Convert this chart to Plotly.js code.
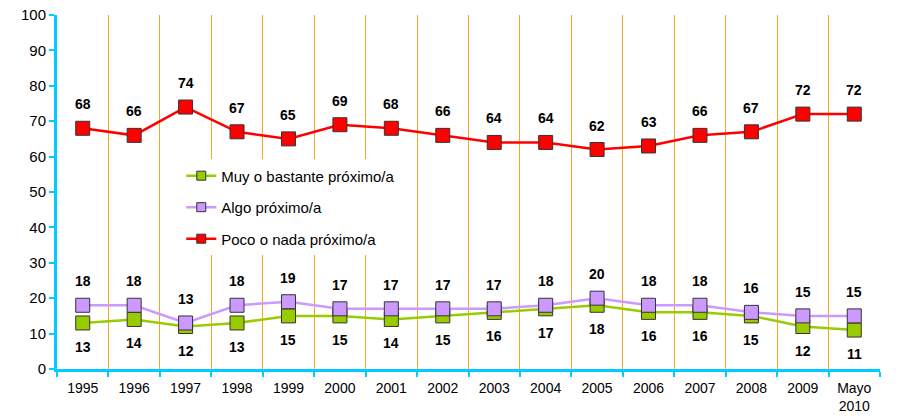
<!DOCTYPE html>
<html><head><meta charset="utf-8">
<script src="https://cdn.plot.ly/plotly-3.0.1.min.js"></script>
<style>html,body{margin:0;padding:0;background:#fff}#c{width:899px;height:418px}</style>
</head><body><div id="c"></div>
<script>
const categories = ["1995","1996","1997","1998","1999","2000","2001","2002","2003","2004","2005","2006","2007","2008","2009","Mayo<br>2010"];
const seriesNames = ["Muy o bastante próximo/a","Algo próximo/a","Poco o nada próximo/a"];
const muyBastante = [13,14,12,13,15,15,14,15,16,17,18,16,16,15,12,11];
const algo = [18,18,13,18,19,17,17,17,17,18,20,18,18,16,15,15];
const pocoNada = [68,66,74,67,65,69,68,66,64,64,62,63,66,67,72,72];
const yTicks = [0,10,20,30,40,50,60,70,80,90,100];

const FONT = "'Liberation Sans', Arial, sans-serif";
const colors = ["#99CC00","#CC99FF","#FF0000"];
const series = [muyBastante, algo, pocoNada];
const labelShift = [-24, 24, 24];

const traces = [];
series.forEach((vals, i) => {
  traces.push({
    type: "scatter", mode: "lines+markers", x: categories, y: vals,
    line: {color: colors[i], width: 2.5},
    marker: {symbol: "square", size: 14, color: colors[i], line: {color: "#333", width: 1}},
    showlegend: false, hoverinfo: "skip"
  });
});
series.forEach((vals, i) => {
  traces.push({
    type: "scatter", mode: "lines+markers", x: categories, y: categories.map(() => null), name: seriesNames[i],
    legendgroup: "g" + i,
    line: {color: colors[i], width: 2.5},
    marker: {symbol: "square", size: 9, color: colors[i], line: {color: "#333", width: 1}}
  });
});

const annotations = [];
series.forEach((vals, i) => {
  vals.forEach((v, j) => {
    annotations.push({
      x: j, y: v, xref: "x", yref: "y", text: "<b>" + v + "</b>",
      showarrow: false, yshift: labelShift[i],
      font: {family: FONT, size: 14, color: "#000"}
    });
  });
});

const layout = {
  width: 899, height: 418,
  margin: {l: 57, r: 19, t: 15, b: 49},
  paper_bgcolor: "#fff", plot_bgcolor: "#fff",
  font: {family: FONT, size: 14, color: "#000"},
  showlegend: true,
  legend: {x: 0.151, y: 0.592, xanchor: "left", yanchor: "top", bgcolor: "#fff",
    tracegroupgap: 9, font: {family: FONT, size: 15}, traceorder: "grouped"},
  xaxis: {
    type: "category", categoryorder: "array", categoryarray: categories,
    range: [-0.5, categories.length - 0.5],
    tickson: "boundaries", showgrid: true, gridcolor: "#F5A623", gridwidth: 1,
    showline: true, linecolor: "#00CCFF", linewidth: 3,
    ticks: "outside", ticklen: 5, tickwidth: 2, tickcolor: "#00CCFF",
    ticklabelstandoff: 4,
    tickfont: {family: FONT, size: 14}, tickangle: 0, zeroline: false, fixedrange: true
  },
  yaxis: {
    range: [0, 100], tickvals: yTicks, showgrid: false, zeroline: false,
    showline: true, linecolor: "#00CCFF", linewidth: 3,
    ticks: "outside", ticklen: 5, tickwidth: 2, tickcolor: "#00CCFF",
    tickfont: {family: FONT, size: 15}, fixedrange: true
  },
  annotations: annotations
};
Plotly.newPlot("c", traces, layout, {displayModeBar: false, staticPlot: true});
</script></body></html>
